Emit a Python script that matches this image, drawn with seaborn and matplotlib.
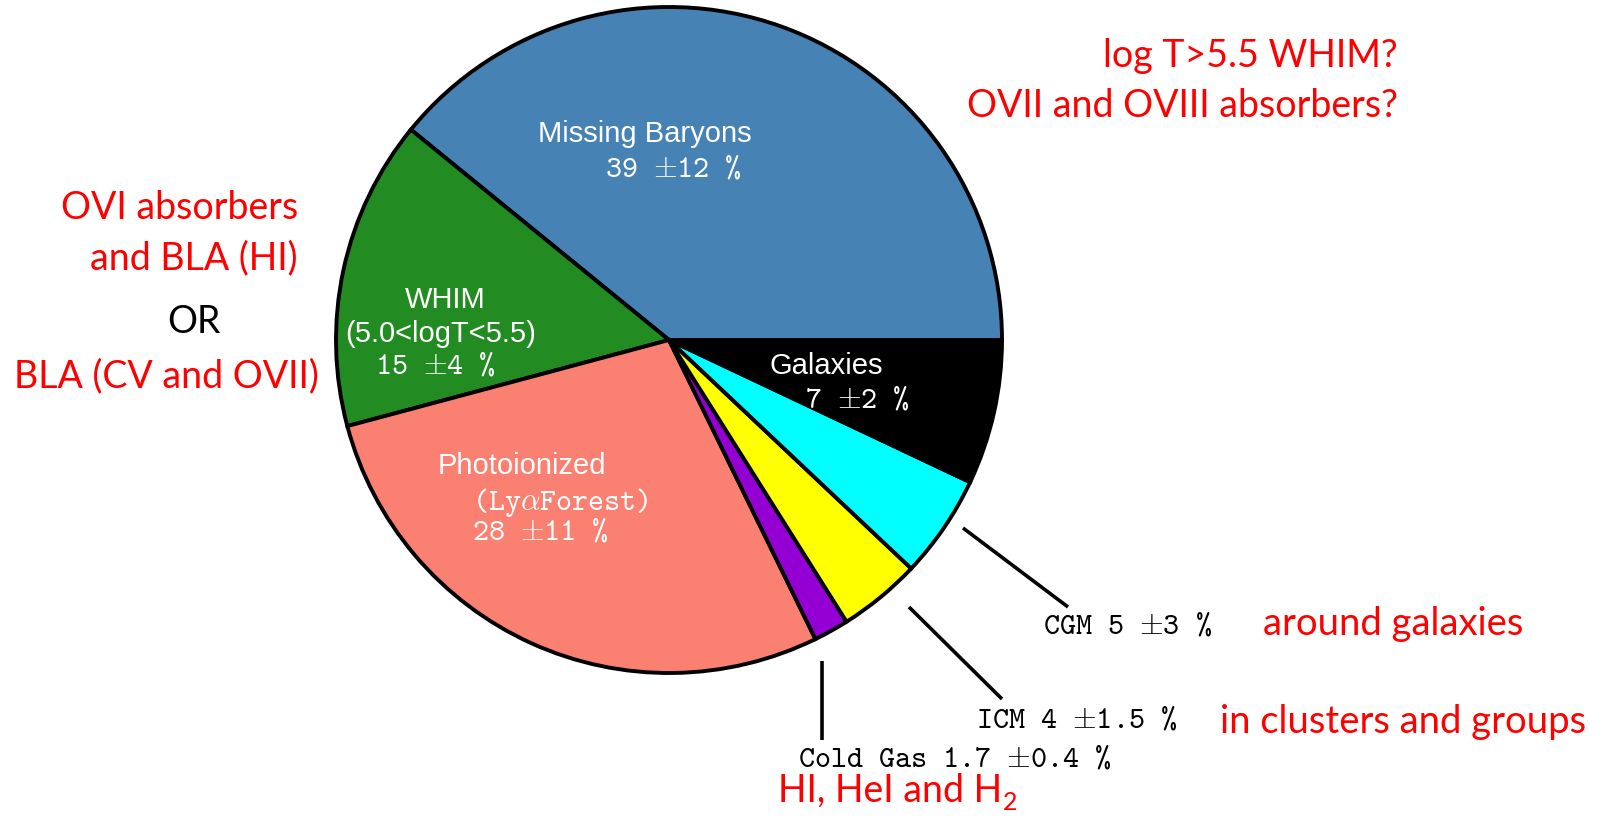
import matplotlib
matplotlib.use("Agg")
import matplotlib.pyplot as plt
import seaborn as sns

# ---- data ----
components = ["Missing Baryons", "WHIM", "Photoionized", "Cold Gas", "ICM", "CGM", "Galaxies"]
fractions = [39, 15, 28, 1.7, 4, 5, 7]
errors = [12, 4, 11, 0.4, 1.5, 3, 2]
slice_colors = ["#4682B4", "#228B22", "#FA8072", "#9400D3", "#FFFF00", "#00FFFF", "#000000"]
inner_titles = {"Missing Baryons": "Missing Baryons", "WHIM": "WHIM",
                "Photoionized": "Photoionized", "Galaxies": "Galaxies"}
inner_subtitles = {"WHIM": "(5.0<logT<5.5)", "Photoionized": r"(Ly$\alpha$Forest)"}
outer_components = ["CGM", "ICM", "Cold Gas"]
notes_right_top = ["log T>5.5 WHIM?", "OVII and OVIII absorbers?"]
notes_left = ["OVI absorbers", "and BLA (HI)", "OR", "BLA (CV and OVII)"]
note_cgm = "around galaxies"
note_icm = "in clusters and groups"
note_cold = ("HI, HeI and H", "2")

sns.set_theme(style="white")
plt.rcParams["mathtext.fontset"] = "cm"

W, H = 1615, 819
fig = plt.figure(figsize=(W / 100, H / 100), dpi=100)
ax = fig.add_axes([0, 0, 1, 1])

cx, cy, R = 669, H - 340, 333
ax.pie(fractions, colors=slice_colors, startangle=0, counterclock=True,
       center=(cx, cy), radius=R, normalize=True,
       wedgeprops=dict(edgecolor="black", linewidth=2.8))
ax.set_xlim(0, W)
ax.set_ylim(0, H)
ax.set_aspect("equal")
ax.axis("off")


def tt(s):
    return s.replace(" ", "\u00a0").replace("±", r"${\pm}$")


def val_label(name):
    i = components.index(name)
    return f"{fractions[i]:g} ±{errors[i]:g} %"


def T(x, y, s, **kw):
    return ax.text(x, H - y, s, va="baseline", **kw)


SANS = dict(family="Liberation Sans", fontsize=21, color="white")
TT = dict(family="cmtt10", fontsize=22)

# inner labels
T(538, 142, inner_titles["Missing Baryons"], **SANS)
T(605, 176, tt(val_label("Missing Baryons")), color="white", **TT)

T(405, 308, inner_titles["WHIM"], **SANS)
T(345, 342, inner_subtitles["WHIM"], **SANS)
T(375, 373, tt(val_label("WHIM")), color="white", **TT)

T(438, 474, inner_titles["Photoionized"], **SANS)
T(472, 510, inner_subtitles["Photoionized"], color="white", **TT)
T(472, 540, tt(val_label("Photoionized")), color="white", **TT)

T(770, 374, inner_titles["Galaxies"], **SANS)
T(805, 407, tt(val_label("Galaxies")), color="white", **TT)

# outer labels with leader lines
outer_pos = {"CGM": (1043, 634), "ICM": (976, 728), "Cold Gas": (798, 767)}
for name in outer_components:
    x, y = outer_pos[name]
    T(x, y, tt(name + " " + val_label(name)), color="black", **TT)

leaders = [((963, 528), (1068, 607)), ((909, 607), (1002, 699)), ((822, 661), (822, 740))]
for (x0, y0), (x1, y1) in leaders:
    ax.plot([x0, x1], [H - y0, H - y1], color="black", lw=2.6, solid_capstyle="butt")

# red notes
RED = dict(family="Lato", fontsize=27, color="#FF0000")
T(1398, 67, notes_right_top[0], ha="right", **RED)
T(1398, 117, notes_right_top[1], ha="right", **RED)
T(298, 219, notes_left[0], ha="right", **RED)
T(298, 269, notes_left[1], ha="right", **RED)
T(194, 333, notes_left[2], ha="center", family="Lato", fontsize=27, color="black")
T(166, 387, notes_left[3], ha="center", **RED)
T(1263, 635, note_cgm, fontsize=27.5, **{k: v for k, v in RED.items() if k != "fontsize"})
T(1220, 733, note_icm, fontsize=27.5, **{k: v for k, v in RED.items() if k != "fontsize"})
t = T(778, 802, note_cold[0], **RED)
renderer = fig.canvas.get_renderer()
bb = t.get_window_extent(renderer)
ax.text(bb.x1 + 1, H - 802 - 8, note_cold[1], va="baseline", family="Lato",
        fontsize=18, color="#FF0000")

fig.savefig("out.png", dpi=100)
